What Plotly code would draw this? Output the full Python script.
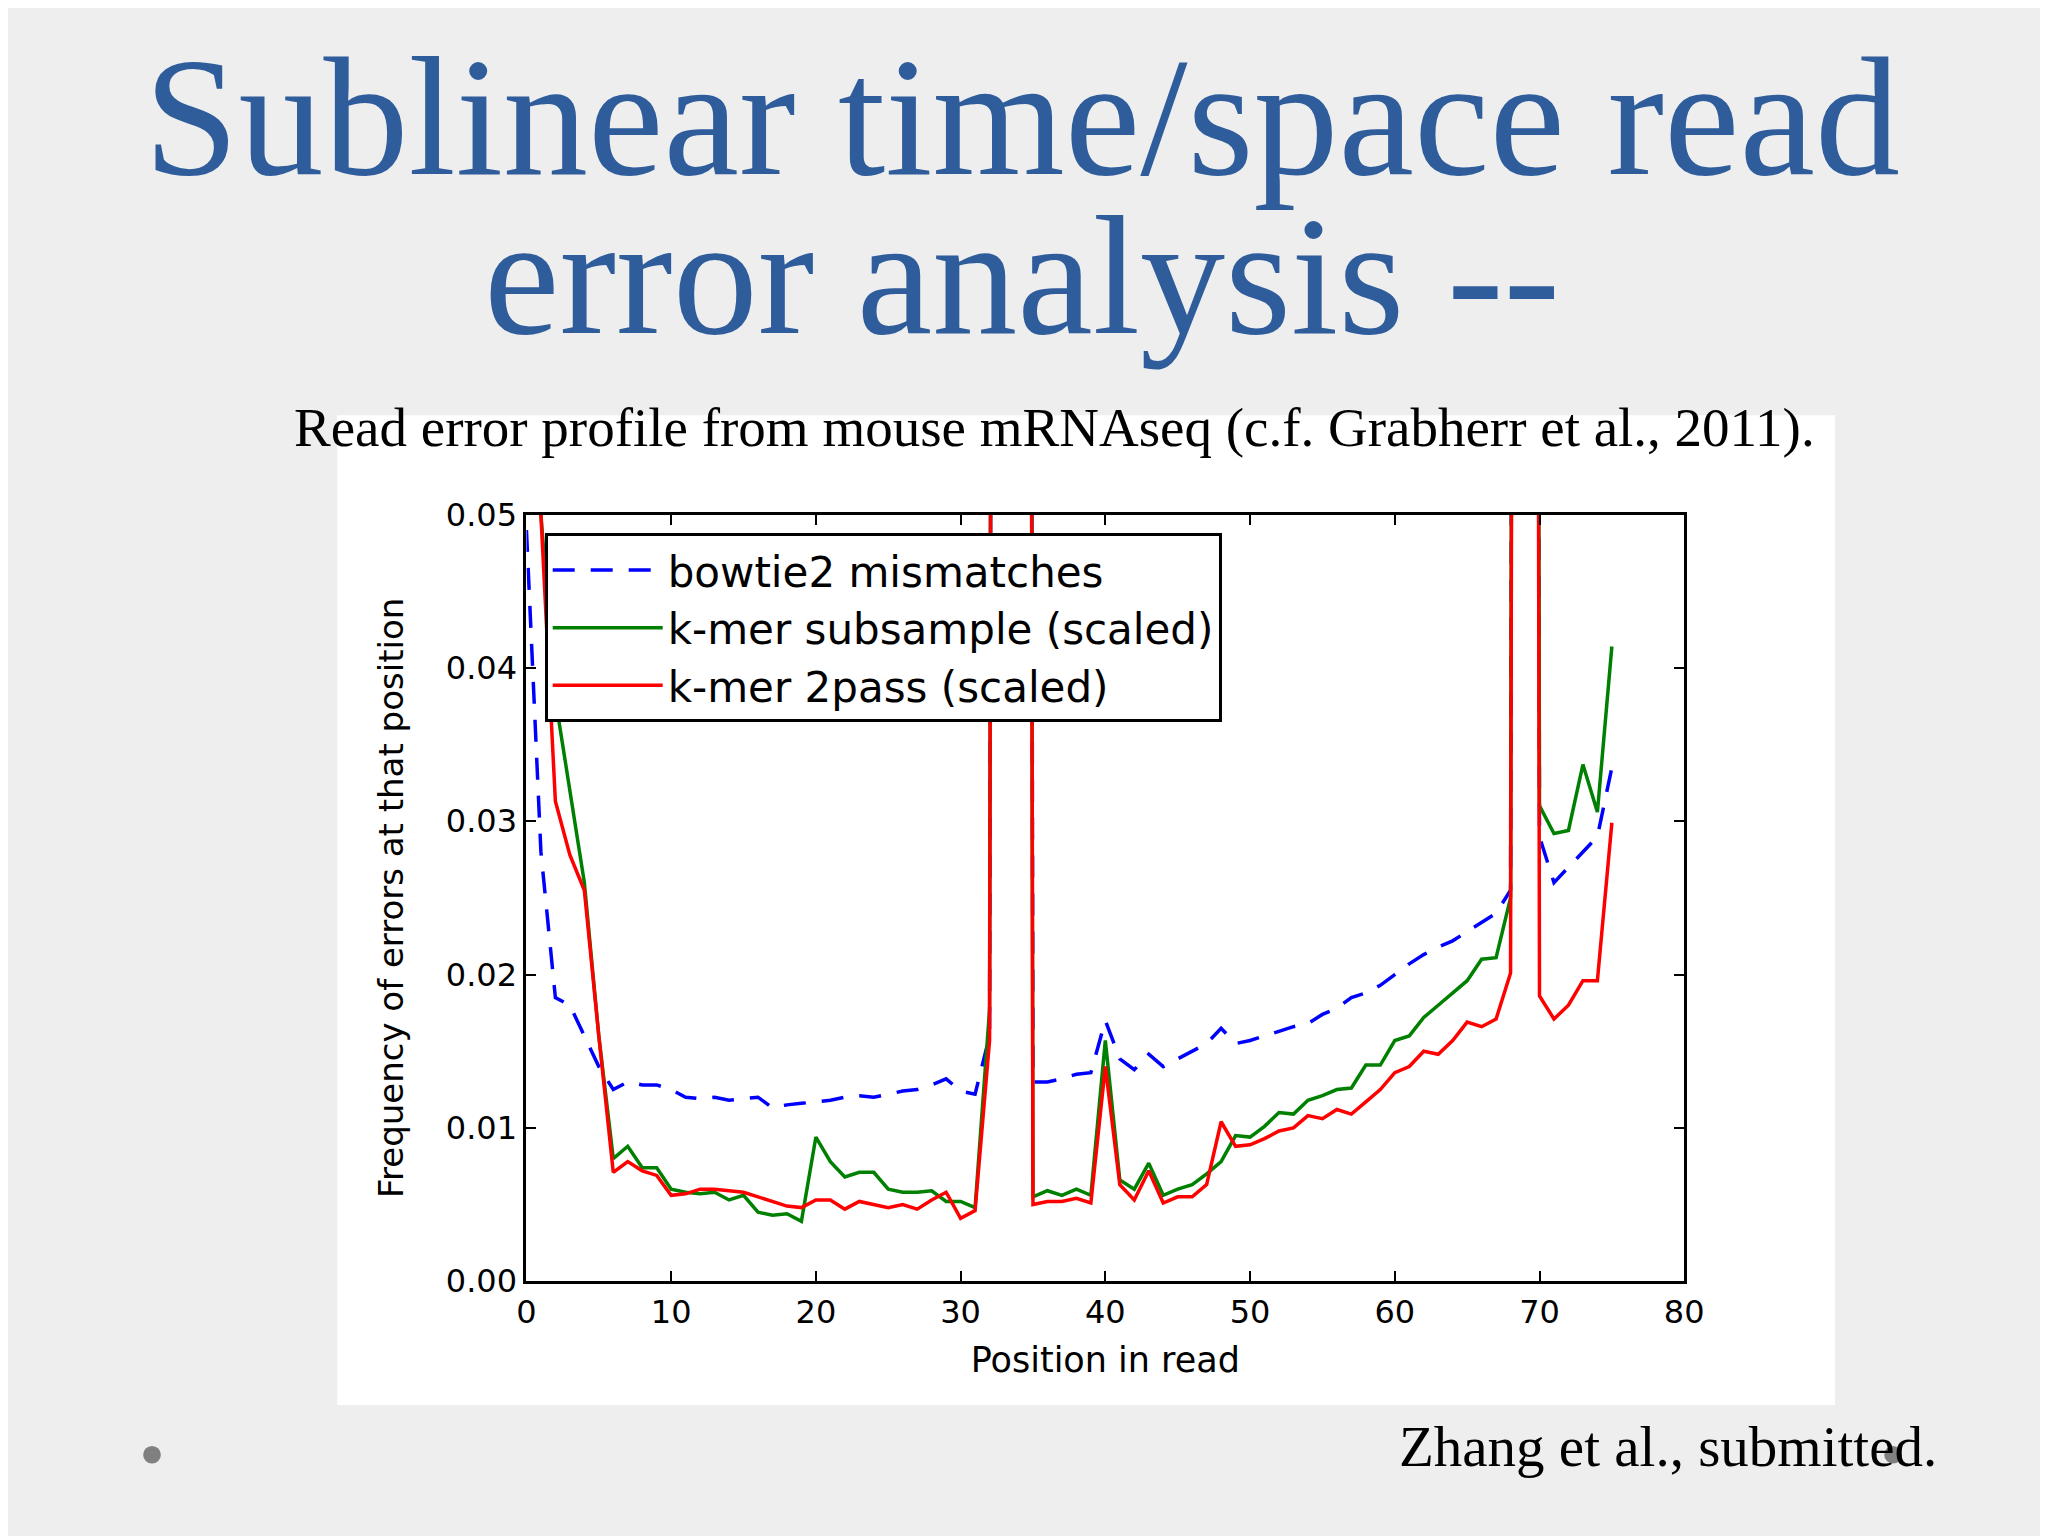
import plotly.graph_objects as go

positions = list(range(76))
HIGH = 0.5
bowtie2 = [0.049, 0.028, 0.0185, 0.018, 0.016, 0.0140, 0.0125, 0.013, 0.0128, 0.0128,
           0.0125, 0.012, 0.0119, 0.012, 0.0118, 0.0119, 0.012, 0.0113, 0.0115, 0.0116,
           0.0117, 0.0118, 0.0120, 0.0121, 0.012, 0.0122, 0.0124, 0.0125, 0.0128, 0.0132,
           0.0124, 0.0122, 0.016, HIGH, HIGH, 0.013, 0.013, 0.0132, 0.0135, 0.0136,
           0.017, 0.0145, 0.0138, 0.0148, 0.0140, 0.0145, 0.015, 0.0155, 0.0165, 0.0155,
           0.0157, 0.016, 0.0163, 0.0166, 0.0168, 0.0174, 0.0178, 0.0185, 0.0188, 0.0193,
           0.020, 0.0207, 0.0213, 0.0218, 0.0222, 0.0228, 0.0234, 0.0240, 0.0255, HIGH,
           0.029, 0.026, 0.027, 0.028, 0.029, 0.0335]
subsample = [0.06, 0.05, 0.038, 0.032, 0.026, 0.016, 0.008, 0.0088, 0.0074, 0.0074,
             0.006, 0.0058, 0.0057, 0.0058, 0.0053, 0.0056, 0.0045, 0.0043, 0.0044, 0.0039,
             0.0094, 0.0078, 0.0068, 0.0071, 0.0071, 0.006, 0.0058, 0.0058, 0.0059, 0.0052,
             0.0052, 0.0048, 0.0177, HIGH, HIGH, 0.0055, 0.0059, 0.0056, 0.006, 0.0056,
             0.0157, 0.0066, 0.006, 0.0077, 0.0056, 0.006, 0.0063, 0.007, 0.0078, 0.0095,
             0.0094, 0.0101, 0.011, 0.0109, 0.0118, 0.0121, 0.0125, 0.0126, 0.0141, 0.0141,
             0.0157, 0.016, 0.0172, 0.018, 0.0188, 0.0196, 0.021, 0.0211, 0.025, HIGH,
             0.031, 0.0292, 0.0294, 0.0337, 0.0306, 0.0414]
twopass = [0.06, 0.05, 0.0313, 0.0278, 0.0255, 0.016, 0.0071, 0.0078, 0.0072, 0.0069,
           0.0056, 0.0057, 0.006, 0.006, 0.0059, 0.0058, 0.0055, 0.0052, 0.0049, 0.0048,
           0.0053, 0.0053, 0.0047, 0.0052, 0.005, 0.0048, 0.005, 0.0047, 0.0053, 0.0058,
           0.0041, 0.0046, 0.0157, HIGH, HIGH, 0.005, 0.0052, 0.0052, 0.0054, 0.0051,
           0.014, 0.0063, 0.0053, 0.0072, 0.0051, 0.0055, 0.0055, 0.0063, 0.0104, 0.0088,
           0.0089, 0.0093, 0.0098, 0.01, 0.0108, 0.0106, 0.0112, 0.0109, 0.0117, 0.0125,
           0.0136, 0.014, 0.015, 0.0148, 0.0157, 0.0169, 0.0166, 0.0171, 0.0201, HIGH,
           0.0186, 0.0171, 0.018, 0.0196, 0.0196, 0.0299]

fig = go.Figure()
fig.add_trace(go.Scatter(x=positions, y=bowtie2, mode="lines", name="bowtie2 mismatches",
                         line=dict(color="#0000ff", width=3.5, dash="22px,16px")))
fig.add_trace(go.Scatter(x=positions, y=subsample, mode="lines", name="k-mer subsample (scaled)",
                         line=dict(color="#008000", width=3.5)))
fig.add_trace(go.Scatter(x=positions, y=twopass, mode="lines", name="k-mer 2pass (scaled)",
                         line=dict(color="#ff0000", width=3.5)))

serif = "Palatino Linotype, Book Antiqua, Liberation Serif, DejaVu Serif, serif"
sans = "DejaVu Sans"
blue = "#2f5d9c"

fig.update_layout(
    width=2048, height=1536, margin=dict(l=0, r=0, t=0, b=0),
    paper_bgcolor="#eeeeee", plot_bgcolor="white",
    font=dict(family=sans, size=32, color="black"),
    showlegend=True,
    legend=dict(x=0.261, y=0.662, xanchor="left", yanchor="top",
                bgcolor="white", bordercolor="black", borderwidth=3,
                font=dict(size=42, family=sans), itemwidth=110, tracegroupgap=14),
    xaxis=dict(domain=[516/2048, 1691/2048], range=[0, 80], dtick=10,
               showgrid=False, zeroline=False, showline=True, linecolor="black", linewidth=3,
               mirror="ticks", ticks="inside", ticklen=10, tickwidth=2, tickcolor="black",
               title=dict(text="Position in read", font=dict(size=35), standoff=18)),
    yaxis=dict(domain=[250/1536, 1036/1536], range=[0, 0.05], dtick=0.01, tickformat=".2f",
               showgrid=False, zeroline=False, showline=True, linecolor="black", linewidth=3,
               mirror="ticks", ticks="inside", ticklen=10, tickwidth=2, tickcolor="black",
               title=dict(text="Frequency of errors at that position", font=dict(size=34), standoff=32)),
    shapes=[
        dict(type="rect", xref="paper", yref="paper", x0=324/2048, x1=1844/2048,
             y0=1-1413/1536, y1=1-398/1536, fillcolor="white", line=dict(width=0), layer="below"),
        dict(type="circle", xref="paper", yref="paper", x0=127/2048, x1=145/2048,
             y0=1-1473/1536, y1=1-1455/1536, fillcolor="#808080", line=dict(width=0)),
        dict(type="circle", xref="paper", yref="paper", x0=1894/2048, x1=1912/2048,
             y0=1-1473/1536, y1=1-1455/1536, fillcolor="#808080", line=dict(width=0)),
    ],
    annotations=[
        dict(text="Sublinear time/space read", x=1019/2048, y=1-92/1536, xref="paper", yref="paper",
             yanchor="middle", showarrow=False, font=dict(family=serif, size=170, color=blue)),
        dict(text="error analysis --", x=1019/2048, y=1-255/1536, xref="paper", yref="paper",
             yanchor="middle", showarrow=False, font=dict(family=serif, size=170, color=blue)),
        dict(text="Read error profile from mouse mRNAseq (c.f. Grabherr et al., 2011).",
             x=1052/2048, y=1-411/1536, xref="paper", yref="paper", yanchor="middle",
             showarrow=False, font=dict(family=serif, size=55, color="black")),
        dict(text="Zhang et al., submitted.", x=1950/2048, y=1-1456/1536, xref="paper", yref="paper",
             xanchor="right", yanchor="middle", showarrow=False,
             font=dict(family=serif, size=57, color="black")),
    ],
)

fig.write_html("out.html")
